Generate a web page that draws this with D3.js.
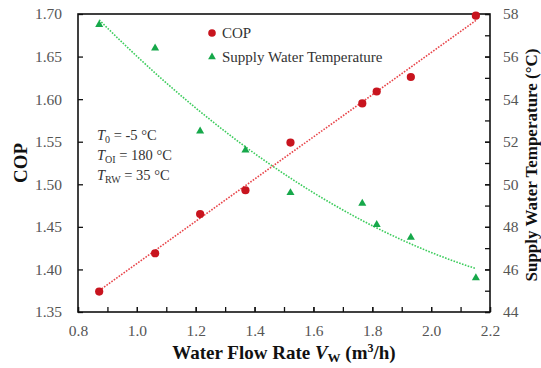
<!DOCTYPE html>
<html>
<head>
<meta charset="utf-8">
<script src="https://cdn.jsdelivr.net/npm/d3@7"></script>
<style>
  body { margin: 0; background: #fff; }
  svg, svg text { font-family: "Times New Roman", "Liberation Serif", "DejaVu Serif", serif; }
</style>
</head>
<body>
<svg id="chart" width="541" height="368"></svg>
<script>
// data
const flowRate = [0.872, 1.062, 1.215, 1.369, 1.522, 1.766, 1.815, 1.931, 2.152];
const cop = [1.374, 1.419, 1.465, 1.493, 1.549, 1.595, 1.609, 1.626, 1.698];
const supplyTemp = [57.5, 56.4, 52.5, 51.6, 49.6, 49.1, 48.1, 47.5, 45.6];
const xTicks = [0.8, 1.0, 1.2, 1.4, 1.6, 1.8, 2.0, 2.2];
const copTicks = [1.35, 1.40, 1.45, 1.50, 1.55, 1.60, 1.65, 1.70];
const tempTicks = [44, 46, 48, 50, 52, 54, 56, 58];

const margin = { top: 14, right: 51, bottom: 56, left: 78 };
const width = 541 - margin.left - margin.right,
  height = 368 - margin.top - margin.bottom;

const svg = d3.select("#chart");
const g = svg.append("g").attr("transform", `translate(${margin.left},${margin.top})`);

const x = d3.scaleLinear().domain([0.8, 2.2]).range([0, width]);
const yL = d3.scaleLinear().domain([1.35, 1.70]).range([height, 0]);
const yR = d3.scaleLinear().domain([44, 58]).range([height, 0]);

const red = "#c8141e", green = "#16a84a";

// least squares fits for the trend lines
function linFit(xs, ys) {
  const n = xs.length, mx = d3.mean(xs), my = d3.mean(ys);
  let sxy = 0, sxx = 0;
  for (let i = 0; i < n; i++) { sxy += (xs[i] - mx) * (ys[i] - my); sxx += (xs[i] - mx) ** 2; }
  const b = sxy / sxx;
  return (v) => my + b * (v - mx);
}
function quadFit(xs, ys) {
  const S = (p) => d3.sum(xs, (v) => v ** p);
  const T = (p) => d3.sum(xs.map((v, i) => ys[i] * v ** p));
  const A = [[S(0), S(1), S(2)], [S(1), S(2), S(3)], [S(2), S(3), S(4)]];
  const B = [T(0), T(1), T(2)];
  // gaussian elimination
  for (let i = 0; i < 3; i++) {
    for (let k = i + 1; k < 3; k++) {
      const f = A[k][i] / A[i][i];
      for (let j = i; j < 3; j++) A[k][j] -= f * A[i][j];
      B[k] -= f * B[i];
    }
  }
  const c = [0, 0, 0];
  for (let i = 2; i >= 0; i--) {
    let s = B[i];
    for (let j = i + 1; j < 3; j++) s -= A[i][j] * c[j];
    c[i] = s / A[i][i];
  }
  return (v) => c[0] + c[1] * v + c[2] * v * v;
}

const copFit = linFit(flowRate, cop);
const tempFit = quadFit(flowRate, supplyTemp);
const xs = d3.range(0, 41).map((i) => flowRate[0] + (flowRate[flowRate.length - 1] - flowRate[0]) * i / 40);

g.append("path")
  .attr("d", d3.line().x((d) => x(d)).y((d) => yR(tempFit(d)))(xs))
  .attr("fill", "none").attr("stroke", "#3ccc5c").attr("stroke-width", 1.6)
  .attr("stroke-dasharray", "1.6,1.4");
g.append("path")
  .attr("d", d3.line().x((d) => x(d)).y((d) => yL(copFit(d)))(xs))
  .attr("fill", "none").attr("stroke", "#e8454a").attr("stroke-width", 1.6)
  .attr("stroke-dasharray", "1.6,1.4");

// axes
const fontFam = '"Times New Roman", "Liberation Serif", "DejaVu Serif", serif';
const tickStyle = (sel) => {
  sel.attr("font-family", null).attr("font-size", null);
  sel.select(".domain").remove();
  sel.selectAll("line").attr("stroke", "#111").attr("stroke-width", 1.3);
  sel.selectAll("text").attr("fill", "#555").style("font-size", "15.5px")
    .style("font-family", fontFam);
};

g.append("g").attr("transform", `translate(0,${height})`)
  .call(d3.axisBottom(x).tickValues(d3.range(0.8, 2.21, 0.1)).tickSize(-5).tickFormat(""))
  .call(tickStyle);
g.append("g").attr("transform", `translate(0,${height})`)
  .call(d3.axisBottom(x).tickValues(xTicks).tickSize(-5).tickPadding(13).tickFormat(d3.format(".1f")))
  .call(tickStyle);

g.append("g")
  .call(d3.axisLeft(yL).tickValues(copTicks).tickSize(-5).tickPadding(16).tickFormat(d3.format(".2f")))
  .call(tickStyle);

g.append("g").attr("transform", `translate(${width},0)`)
  .call(d3.axisRight(yR).tickValues(d3.range(44, 58.1, 1)).tickSize(-5).tickFormat(""))
  .call(tickStyle);
g.append("g").attr("transform", `translate(${width},0)`)
  .call(d3.axisRight(yR).tickValues(tempTicks).tickSize(-5).tickPadding(13).tickFormat(d3.format("d")))
  .call(tickStyle);

g.append("rect").attr("width", width).attr("height", height)
  .attr("fill", "none").attr("stroke", "#111").attr("stroke-width", 1.6);

// markers
const tri = d3.symbol().type(d3.symbolTriangle).size(28);
g.selectAll(".tri").data(flowRate).join("path")
  .attr("transform", (d, i) => `translate(${x(d)},${yR(supplyTemp[i])})`)
  .attr("d", tri).attr("fill", green);
g.selectAll(".dot").data(flowRate).join("circle")
  .attr("cx", (d) => x(d)).attr("cy", (d, i) => yL(cop[i]))
  .attr("r", 4.1).attr("fill", red);

// legend
const lg = g.append("g").attr("transform", "translate(134,19)").style("font-size", "15px").attr("fill", "#333");
lg.append("circle").attr("cx", 0).attr("cy", 0).attr("r", 3.8).attr("fill", red);
lg.append("text").attr("x", 10).attr("y", 5).text("COP");
lg.append("path").attr("transform", "translate(0,24)").attr("d", d3.symbol().type(d3.symbolTriangle).size(26)).attr("fill", green);
lg.append("text").attr("x", 10).attr("y", 29).text("Supply Water Temperature");

// condition notes
const notes = [["0", " = -5 °C"], ["OI", " = 180 °C"], ["RW", " = 35 °C"]];
const nt = g.append("g").attr("transform", "translate(19,126)").style("font-size", "14.5px").attr("fill", "#333");
notes.forEach((n, i) => {
  const t = nt.append("text").attr("y", i * 20);
  t.append("tspan").style("font-style", "italic").text("T");
  t.append("tspan").attr("dy", 3).style("font-size", "10px").text(n[0]);
  t.append("tspan").attr("dy", -3).text(n[1]);
});

// axis titles
svg.append("text")
  .attr("transform", `translate(27,${margin.top + height / 2}) rotate(-90)`)
  .attr("text-anchor", "middle").style("font-size", "19px").style("font-weight", "bold")
  .attr("fill", "#111").text("COP");

svg.append("text")
  .attr("transform", `translate(537,${margin.top + height / 2 + 2}) rotate(-90)`)
  .attr("text-anchor", "middle").style("font-size", "17px").style("font-weight", "bold")
  .attr("fill", "#111").text("Supply Water Temperature (°C)");

const xl = svg.append("text")
  .attr("x", margin.left + width / 2).attr("y", 359)
  .attr("text-anchor", "middle").style("font-size", "19px").style("font-weight", "bold")
  .attr("fill", "#111");
xl.append("tspan").text("Water Flow Rate ");
xl.append("tspan").style("font-style", "italic").text("V");
xl.append("tspan").attr("dy", 3).style("font-size", "13px").text("W");
xl.append("tspan").attr("dy", -3).text(" (m");
xl.append("tspan").attr("dy", -7).style("font-size", "12px").text("3");
xl.append("tspan").attr("dy", 7).text("/h)");
</script>
</body>
</html>
